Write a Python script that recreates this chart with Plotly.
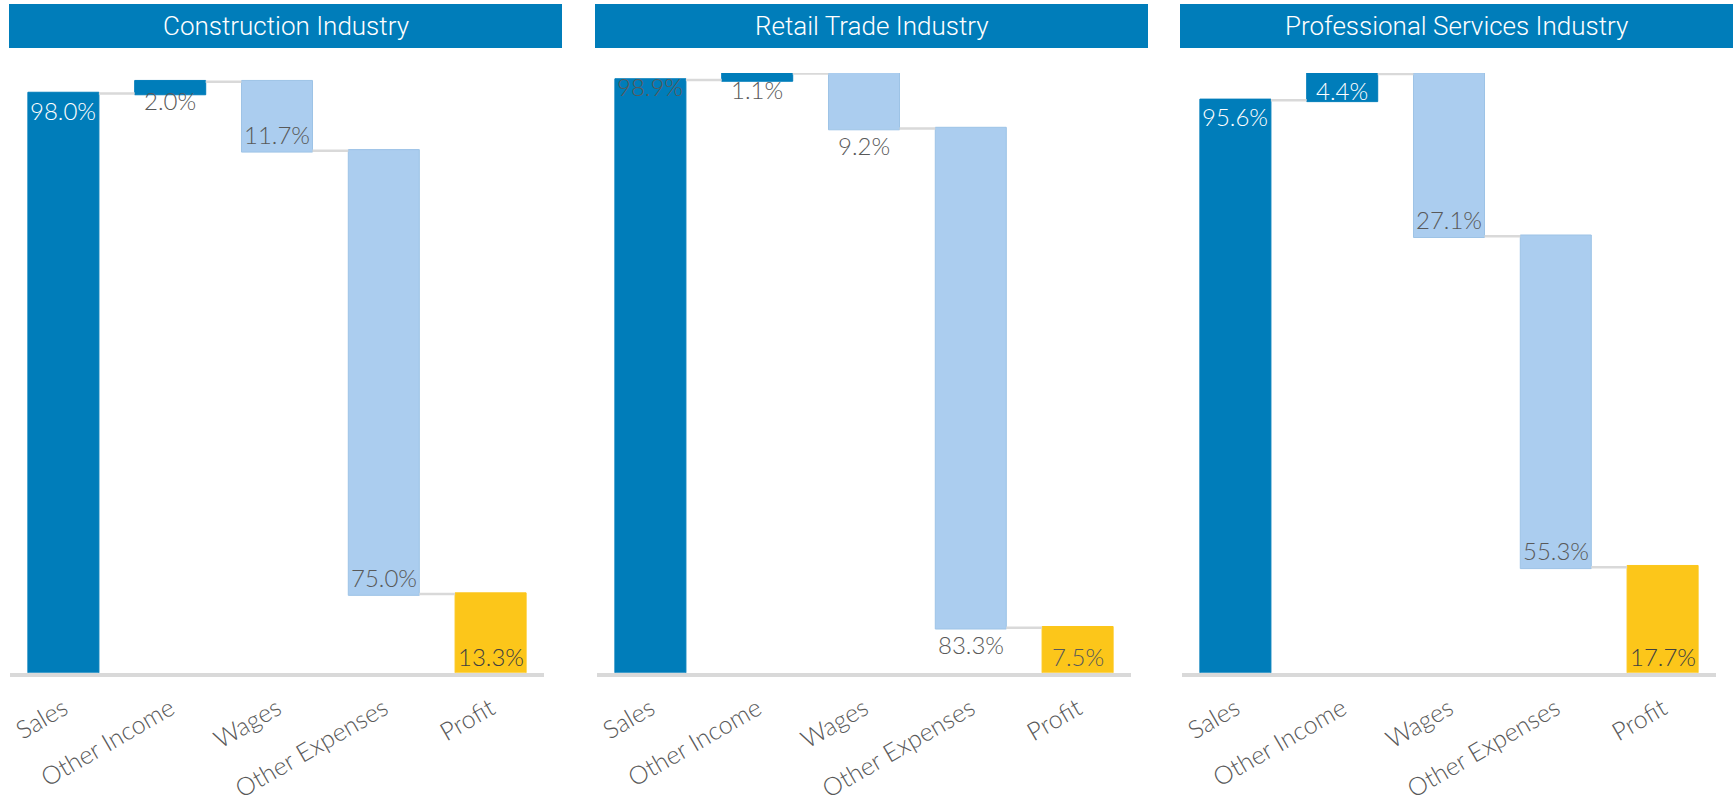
import plotly.graph_objects as go

# ---- data ----
categories = ["Sales", "Other Income", "Wages", "Other Expenses", "Profit"]
panel_titles = ["Construction Industry", "Retail Trade Industry", "Professional Services Industry"]
construction = [98.0, 2.0, -11.7, -75.0, 13.3]
retail = [98.9, 1.1, -9.2, -83.3, 7.5]
professional = [95.6, 4.4, -27.1, -55.3, 17.7]
measures = ["relative", "relative", "relative", "relative", "absolute"]

# ---- styles ----
W, H = 1735, 802
DARK = "#007DBA"
LIGHT = "#ABCDEF"
LIGHT_EDGE = "#9DC3E6"
YELLOW = "#FCC61A"
GRAY = "#595959"
LINE = "#D9D9D9"
FONT = "Lato"

panels = [construction, retail, professional]
x_px = [(10, 544), (597, 1131), (1182, 1716)]
title_px = [(9, 562), (595, 1148), (1180, 1733)]
y_top_px, y_base_px = 73, 672.7
y_max = [101.47, 100.07, 100.17]
# label placement per bar: (kind, colour, pixel shift)
label_style = [
    [("top_in", "white", 0), ("top_in", GRAY, -2), ("bottom_in", GRAY, 0), ("bottom_in", GRAY, 0), ("bottom_in", "#404040", 0)],
    [("top_in", GRAY, 10), ("top_in", GRAY, 0), ("below", GRAY, 0), ("below", GRAY, 0), ("bottom_in", GRAY, 0)],
    [("top_in", "white", 0), ("top_in", "white", 0), ("bottom_in", GRAY, 0), ("bottom_in", GRAY, 0), ("bottom_in", "#404040", 0)],
]

fig = go.Figure()
annotations = []
shapes = []
layout_axes = {}

def py(p):
    return 1 - p / H

for i, vals in enumerate(panels):
    sfx = "" if i == 0 else str(i + 1)
    xr, yr = "x" + sfx, "y" + sfx
    fig.add_trace(go.Waterfall(
        x=categories, y=vals, measure=measures,
        xaxis=xr, yaxis=yr,
        increasing=dict(marker=dict(color=DARK, line=dict(color=DARK, width=1))),
        decreasing=dict(marker=dict(color=LIGHT, line=dict(color=LIGHT_EDGE, width=1))),
        totals=dict(marker=dict(color=YELLOW, line=dict(color=YELLOW, width=1))),
        connector=dict(mode="between", line=dict(color=LINE, width=2.5)),
        textinfo="none", hoverinfo="skip", showlegend=False,
    ))
    x0, x1 = x_px[i]
    layout_axes["xaxis" + sfx] = dict(
        domain=[x0 / W, x1 / W], anchor=yr, type="category",
        showline=True, linecolor=LINE, linewidth=3.5, showgrid=False, zeroline=False,
        ticks="", tickangle=-30, tickfont=dict(family=FONT, size=25, color=GRAY, weight=300),
        ticklabelstandoff=8,
    )
    layout_axes["yaxis" + sfx] = dict(
        domain=[py(y_base_px), py(y_top_px)], anchor=xr, range=[0, y_max[i]],
        visible=False, showgrid=False, zeroline=False,
    )
    # labels
    cum = 0.0
    for j, (cat, v, m) in enumerate(zip(categories, vals, measures)):
        if m == "absolute":
            bottom, top = 0.0, v
        else:
            base = cum
            cum += v
            bottom, top = min(base, cum), max(base, cum)
        kind, col, shift = label_style[i][j]
        if kind == "top_in":
            yv, anchor = top, "top"
        elif kind == "bottom_in":
            yv, anchor = bottom, "bottom"
        else:
            yv, anchor = bottom, "top"
        annotations.append(dict(
            x=cat, y=yv, xref=xr, yref=yr, text=f"{abs(v):.1f}%", showarrow=False,
            yanchor=anchor, xanchor="center", yshift=shift,
            font=dict(family=FONT, size=24, color=col, weight=300),
        ))
    # title bar
    t0, t1 = title_px[i]
    shapes.append(dict(type="rect", xref="paper", yref="paper",
                       x0=t0 / W, x1=t1 / W, y0=py(48), y1=py(4),
                       fillcolor=DARK, line=dict(width=0), layer="below"))
    annotations.append(dict(x=(t0 + t1) / 2 / W, y=py(26), xref="paper", yref="paper",
                            text=panel_titles[i], showarrow=False, xanchor="center", yanchor="middle",
                            font=dict(family="Roboto", size=26, color="white", weight=300)))

fig.update_layout(
    width=W, height=H, margin=dict(l=0, r=0, t=0, b=0),
    paper_bgcolor="white", plot_bgcolor="white",
    waterfallgap=0.335, annotations=annotations, shapes=shapes,
    **layout_axes,
)

fig.write_html("out.html", config={"displayModeBar": False},
               post_script="document.body.style.margin='0';")
